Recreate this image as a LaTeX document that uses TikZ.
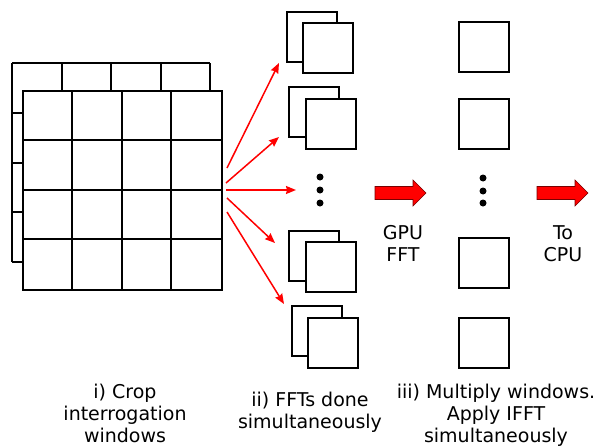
\documentclass[tikz,border=0pt]{standalone}
\usepackage{fontspec}
\setmainfont{DejaVu Sans}
\usetikzlibrary{arrows.meta}
\definecolor{arrowred}{RGB}{255,0,0}
\definecolor{edgered}{RGB}{120,0,0}
\begin{document}
\begin{tikzpicture}[x=1pt,y=-1pt,
  gridline/.style={line width=2pt, line join=round},
  sqbox/.style={draw, line width=2pt, fill=white, minimum size=50pt, inner sep=0pt},
  dotmark/.style={circle, fill=black, inner sep=0pt, minimum size=7pt},
  ray/.style={arrowred, line width=1.5pt, -{Stealth[length=10pt,width=8pt,inset=1pt]}},
  blockarrow/.style={fill=arrowred, draw=edgered, line width=0.6pt, line join=miter},
  lbl/.style={font=\fontsize{19}{22}\selectfont, align=center, anchor=base, inner sep=0pt}]
\useasboundingbox (0,0) rectangle (600,447);

% back grid
\fill[white] (12,63) rectangle (210,262);
\foreach \i in {0,...,4} {
  \draw[gridline] ({12+\i*49.5},63) -- ({12+\i*49.5},262);
  \draw[gridline] (12,{63+\i*49.75}) -- (210,{63+\i*49.75});
}
% front grid
\node[draw, line width=2pt, fill=white, minimum width=199pt, minimum height=199pt, inner sep=0pt, anchor=north west] (grid) at (22,90) {};
\foreach \i in {1,2,3} {
  \draw[gridline] ({22+\i*49.75},90) -- ({22+\i*49.75},289);
  \draw[gridline] (22,{90+\i*49.75}) -- (221,{90+\i*49.75});
}

% column ii: pairs of squares
\node[sqbox] (b1) at (311.5,37) {};
\node[sqbox] (f1) at (327.5,48) {};
\node[sqbox] (b2) at (314,112) {};
\node[sqbox] (f2) at (330.5,123.5) {};
\node[sqbox] (b3) at (314,256) {};
\node[sqbox] (f3) at (330.5,267) {};
\node[sqbox] (b4) at (317,330.5) {};
\node[sqbox] (f4) at (332.5,342.5) {};
\node[dotmark] (d1) at (320,177) {};
\node[dotmark] (d2) at (320,190) {};
\node[dotmark] (d3) at (320,203) {};

% rays
\coordinate (s1) at (227,168);
\coordinate (s2) at (226,183);
\coordinate (s3) at (226,190);
\coordinate (s4) at (227,198);
\coordinate (s5) at (227,212);
\coordinate (t1) at (279,63);
\coordinate (t2) at (279,137);
\coordinate (t3) at (296,190);
\coordinate (t4) at (275,243);
\coordinate (t5) at (284,304);
\draw[ray] (s1) -- (t1);
\draw[ray] (s2) -- (t2);
\draw[ray] (s3) -- (t3);
\draw[ray] (s4) -- (t4);
\draw[ray] (s5) -- (t5);

% column iii
\node[sqbox] (m1) at (484,47) {};
\node[sqbox] (m2) at (484,123.5) {};
\node[sqbox] (m3) at (484,262.5) {};
\node[sqbox] (m4) at (484,342.5) {};
\node[dotmark] (e1) at (483,178) {};
\node[dotmark] (e2) at (483,191) {};
\node[dotmark] (e3) at (483,203) {};

% block arrows
\draw[blockarrow] (375,186.5) -- (413,186.5) -- (413,180) -- (426,193) -- (413,206) -- (413,199.5) -- (375,199.5) -- cycle;
\draw[blockarrow] (537,186.5) -- (575,186.5) -- (575,180) -- (588,193) -- (575,206) -- (575,199.5) -- (537,199.5) -- cycle;

% labels (anchor = baseline of last line)
\node[lbl] (gpu) at (403,261) {GPU\\FFT};
\node[lbl] (cpu) at (563,261) {To\\CPU};
\node[lbl] (li) at (125,442) {i) Crop\\interrogation\\windows};
\node[lbl] (lii) at (310,428) {ii) FFTs done\\simultaneously};
\node[lbl] (liii) at (496,442) {iii) Multiply windows.\\Apply IFFT\\simultaneously};
\end{tikzpicture}
\end{document}
